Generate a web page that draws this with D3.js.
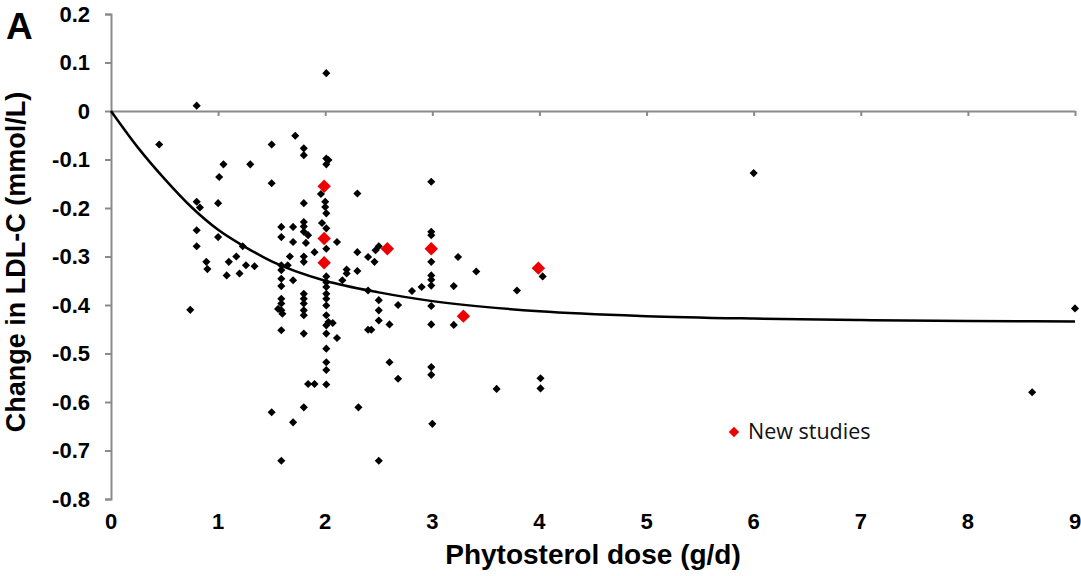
<!DOCTYPE html>
<html>
<head>
<meta charset="utf-8">
<script src="https://cdn.jsdelivr.net/npm/d3@7"></script>
<style>
  body { margin: 0; background: #fff; }
  text { font-family: "Liberation Sans", Arial, sans-serif; }
</style>
</head>
<body>
<svg id="chart" width="1081" height="576"></svg>
<script>
// previous studies (dose g/d, change mmol/L)
const doseOld = [0.45, 0.80, 0.74, 0.80, 0.83, 0.80, 0.80, 0.89, 0.90, 1.00,
  1.01, 1.05, 1.00, 1.08, 1.10, 1.17, 1.20, 1.23, 1.26, 1.30,
  1.34, 1.50, 1.50, 1.50, 1.59, 1.59, 1.59, 1.59, 1.59, 1.59,
  1.59, 1.59, 1.56, 1.59, 1.60, 1.59, 1.59, 1.70, 1.70, 1.67,
  1.65, 1.70, 1.72, 1.70, 1.80, 1.80, 1.80, 1.80, 1.80, 1.80,
  1.84, 1.82, 1.80, 1.80, 1.80, 1.80, 1.80, 1.80, 1.80, 1.80,
  1.80, 1.84, 1.90, 1.90, 1.96, 1.97, 2.01, 2.01, 2.03, 2.01,
  2.00, 2.00, 2.01, 2.01, 2.01, 2.01, 2.01, 2.01, 2.01, 2.01,
  2.01, 2.01, 2.03, 2.01, 2.07, 2.01, 2.01, 2.01, 2.01, 2.01,
  2.11, 2.11, 2.16, 2.20, 2.20, 2.30, 2.30, 2.30, 2.31, 2.40,
  2.40, 2.40, 2.43, 2.46, 2.47, 2.50, 2.50, 2.50, 2.50, 2.50,
  2.60, 2.60, 2.68, 2.68, 2.81, 2.90, 2.99, 2.99, 2.99, 2.99,
  2.99, 2.99, 2.99, 2.99, 2.99, 2.99, 2.99, 3.00, 3.20, 3.20,
  3.24, 3.41, 3.60, 3.79, 4.03, 4.01, 4.01, 6.00, 8.60, 9.00];
const changeOld = [-0.069, 0.011, -0.41, -0.187, -0.199, -0.246, -0.279, -0.311, -0.326, -0.19,
  -0.136, -0.11, -0.26, -0.339, -0.311, -0.30, -0.335, -0.279, -0.318, -0.11,
  -0.32, -0.069, -0.149, -0.621, -0.239, -0.26, -0.318, -0.328, -0.346, -0.361,
  -0.387, -0.397, -0.408, -0.411, -0.418, -0.452, -0.721, -0.239, -0.27, -0.30,
  -0.318, -0.349, -0.051, -0.642, -0.077, -0.091, -0.19, -0.229, -0.238, -0.249,
  -0.256, -0.272, -0.30, -0.311, -0.377, -0.387, -0.397, -0.411, -0.421, -0.459,
  -0.611, -0.563, -0.563, -0.291, -0.171, -0.231, 0.078, -0.098, -0.101, -0.11,
  -0.187, -0.198, -0.211, -0.242, -0.284, -0.341, -0.353, -0.363, -0.377, -0.387,
  -0.401, -0.421, -0.435, -0.442, -0.437, -0.459, -0.49, -0.518, -0.534, -0.564,
  -0.27, -0.468, -0.349, -0.327, -0.335, -0.17, -0.291, -0.33, -0.611, -0.301,
  -0.37, -0.451, -0.451, -0.311, -0.287, -0.279, -0.39, -0.411, -0.432, -0.721,
  -0.44, -0.518, -0.40, -0.552, -0.371, -0.363, -0.146, -0.249, -0.256, -0.311,
  -0.339, -0.348, -0.36, -0.402, -0.44, -0.528, -0.544, -0.645, -0.361, -0.441,
  -0.301, -0.331, -0.573, -0.37, -0.341, -0.551, -0.572, -0.128, -0.58, -0.407];

// new studies
const doseNew = [1.99, 1.99, 1.99, 2.58, 2.99, 3.99, 3.29];
const changeNew = [-0.155, -0.263, -0.313, -0.284, -0.284, -0.324, -0.423];

// fitted curve
const curveDose = [0, 0.25, 0.5, 0.75, 1, 1.25, 1.5, 2, 2.5, 3, 4, 5, 6, 7, 8, 9];
const curveChange = [0, -0.075, -0.14, -0.198, -0.245, -0.28, -0.31, -0.35, -0.374, -0.392, -0.413, -0.423, -0.428, -0.431, -0.433, -0.434];

const xTicks = [0, 1, 2, 3, 4, 5, 6, 7, 8, 9];
const yTicks = [0.2, 0.1, 0, -0.1, -0.2, -0.3, -0.4, -0.5, -0.6, -0.7, -0.8];

const svg = d3.select('#chart');
const axisColor = '#8a8a8a';

const xscale = d3.scaleLinear().domain([0, 9]).range([111, 1075]);
const yscale = d3.scaleLinear().domain([-0.8, 0.2]).range([499, 14]);

// left axis
const yaxis = d3.axisLeft(yscale)
  .tickValues(yTicks)
  .tickSize(6)
  .tickSizeOuter(6)
  .tickFormat(d => d === 0 ? '0' : d.toFixed(1)); // hyphen minus like the original
const yg = svg.append('g')
  .attr('transform', `translate(${xscale(0)},0)`)
  .call(yaxis);
yg.select('.domain').attr('stroke', axisColor).attr('stroke-width', 2);
yg.selectAll('.tick line').attr('stroke', axisColor).attr('stroke-width', 2);
yg.selectAll('.tick text')
  .attr('x', -21)
  .attr('fill', '#000')
  .style('font-size', '22px')
  .style('font-weight', 'bold');

// zero line with downward ticks
const xaxis = d3.axisBottom(xscale)
  .tickValues(xTicks)
  .tickSize(5)
  .tickSizeOuter(0)
  .tickFormat('');
const xg = svg.append('g')
  .attr('transform', `translate(0,${yscale(0)})`)
  .call(xaxis);
xg.select('.domain').attr('stroke', axisColor).attr('stroke-width', 2);
xg.selectAll('.tick line').attr('stroke', axisColor).attr('stroke-width', 2);

// x tick labels at the bottom
svg.append('g').selectAll('text').data(xTicks).enter()
  .append('text')
  .attr('x', d => xscale(d))
  .attr('y', 529)
  .attr('text-anchor', 'middle')
  .style('font-size', '22px')
  .style('font-weight', 'bold')
  .text(d => d);

// fitted curve
const line = d3.line()
  .x(d => xscale(d[0]))
  .y(d => yscale(d[1]))
  .curve(d3.curveMonotoneX);
svg.append('path')
  .datum(d3.zip(curveDose, curveChange))
  .attr('d', line)
  .attr('fill', 'none')
  .attr('stroke', '#000')
  .attr('stroke-width', 2.5);

// points
const diamondSmall = d3.symbol().type(d3.symbolDiamond2).size(42);
const diamondBig = d3.symbol().type(d3.symbolDiamond2).size(115);

svg.append('g').selectAll('path').data(d3.zip(doseOld, changeOld)).enter()
  .append('path')
  .attr('transform', d => `translate(${xscale(d[0])},${yscale(d[1])})`)
  .attr('d', diamondSmall)
  .attr('fill', '#000');

svg.append('g').selectAll('path').data(d3.zip(doseNew, changeNew)).enter()
  .append('path')
  .attr('transform', d => `translate(${xscale(d[0])},${yscale(d[1])})`)
  .attr('d', diamondBig)
  .attr('fill', '#ee0000');

// legend
svg.append('path')
  .attr('transform', 'translate(734,432)')
  .attr('d', d3.symbol().type(d3.symbolDiamond2).size(70))
  .attr('fill', '#ee0000');
svg.append('text')
  .attr('x', 748)
  .attr('y', 439)
  .style('font-family', '"Open Sans", sans-serif')
  .style('font-size', '21.5px')
  .attr('fill', '#111')
  .text('New studies');

// axis titles
svg.append('text')
  .attr('x', 593)
  .attr('y', 564)
  .attr('text-anchor', 'middle')
  .style('font-size', '28px')
  .style('font-weight', 'bold')
  .text('Phytosterol dose (g/d)');

svg.append('text')
  .attr('transform', 'translate(25,262) rotate(-90)')
  .attr('text-anchor', 'middle')
  .style('font-size', '27px')
  .style('font-weight', 'bold')
  .text('Change in LDL-C (mmol/L)');

// panel letter
svg.append('text')
  .attr('x', 6)
  .attr('y', 39)
  .style('font-size', '37px')
  .style('font-weight', 'bold')
  .text('A');
</script>
</body>
</html>
